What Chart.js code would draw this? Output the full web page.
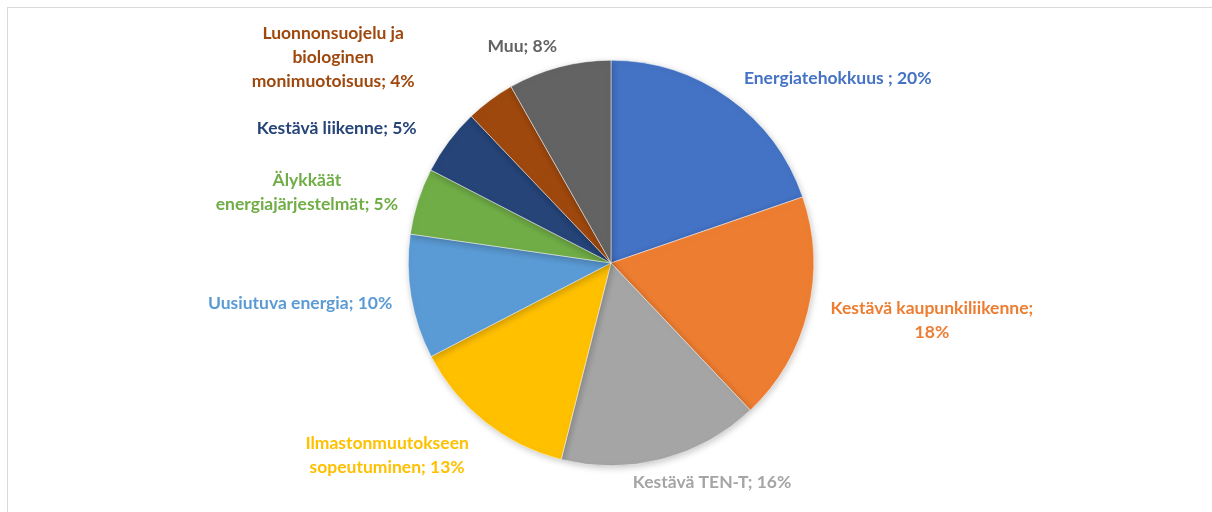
<!DOCTYPE html>
<html>
<head>
<meta charset="utf-8">
<script src="https://cdn.jsdelivr.net/npm/chart.js@4"></script>
<style>
    html, body { margin: 0; padding: 0; background: #fff; overflow: hidden; }
    #wrap { position: relative; width: 1212px; height: 512px; }
    #frame { position: absolute; left: 7px; top: 7px; width: 1220px; height: 520px; border: 1px solid #d9d9d9; box-sizing: border-box; }
    canvas { position: absolute; left: 0; top: 0; }
</style>
</head>
<body>
<div id="wrap">
    <div id="frame"></div>
    <canvas id="pieChart" width="1212" height="512"></canvas>
</div>
<script>
// Data
const categories = [
    'Energiatehokkuus ',
    'Kestävä kaupunkiliikenne',
    'Kestävä TEN-T',
    'Ilmastonmuutokseen sopeutuminen',
    'Uusiutuva energia',
    'Älykkäät energiajärjestelmät',
    'Kestävä liikenne',
    'Luonnonsuojelu ja biologinen monimuotoisuus',
    'Muu'
];
const shares = [19.7, 18.2, 16.0, 13.4, 9.9, 5.3, 5.3, 3.9, 8.2];
const colors = ['#4472C4', '#ED7D31', '#A5A5A5', '#FFC000', '#5B9BD5', '#70AD47', '#264478', '#9E480E', '#636363'];

// how each label is wrapped, and nudged from the slice's outer mid point
const labelLines = [
    ['Energiatehokkuus ; {p}'],
    ['Kestävä kaupunkiliikenne;', '{p}'],
    ['Kestävä TEN-T; {p}'],
    ['Ilmastonmuutokseen', 'sopeutuminen; {p}'],
    ['Uusiutuva energia; {p}'],
    ['Älykkäät', 'energiajärjestelmät; {p}'],
    ['Kestävä liikenne; {p}'],
    ['Luonnonsuojelu ja', 'biologinen', 'monimuotoisuus; {p}'],
    ['Muu; {p}']
];
const labelNudge = [[109, -20], [124, 9], [50, 23], [-98, 33], [-111, 6], [-111, -9], [-112, -13], [-157, -43], [-37, -21]];

const shadowPlugin = {
    id: 'pieShadow',
    beforeDatasetsDraw(chart) {
        const ctx = chart.ctx;
        ctx.save();
        ctx.shadowColor = 'rgba(0,0,0,0.22)';
        ctx.shadowBlur = 7;
        ctx.shadowOffsetX = 1;
        ctx.shadowOffsetY = 2;
    },
    afterDatasetsDraw(chart) {
        chart.ctx.restore();
    }
};

const labelPlugin = {
    id: 'outsideLabels',
    afterDraw(chart) {
        const ctx = chart.ctx;
        const meta = chart.getDatasetMeta(0);
        const total = shares.reduce((a, b) => a + b, 0);
        ctx.save();
        ctx.font = 'bold 17.5px Lato';
        ctx.textAlign = 'center';
        ctx.textBaseline = 'middle';
        const lineH = 24;
        meta.data.forEach((arc, i) => {
            const p = arc.getProps(['x', 'y', 'startAngle', 'endAngle', 'outerRadius'], true);
            const mid = (p.startAngle + p.endAngle) / 2;
            const ax = p.x + Math.cos(mid) * p.outerRadius + labelNudge[i][0];
            const ay = p.y + Math.sin(mid) * p.outerRadius + labelNudge[i][1];
            const pct = Math.round(shares[i] / total * 100) + '%';
            const lines = labelLines[i].map(s => s.replace('{p}', pct));
            ctx.fillStyle = colors[i];
            lines.forEach((line, j) => {
                ctx.fillText(line, ax, ay + (j - (lines.length - 1) / 2) * lineH);
            });
        });
        ctx.restore();
    }
};

new Chart(document.getElementById('pieChart'), {
    type: 'pie',
    data: {
        labels: categories,
        datasets: [{
            data: shares,
            backgroundColor: colors,
            borderColor: '#ffffff',
            borderWidth: 0.5
        }]
    },
    options: {
        responsive: false,
        animation: false,
        layout: { padding: { left: 10, right: 0, top: 60, bottom: 46 } },
        plugins: {
            legend: { display: false },
            tooltip: { enabled: false }
        }
    },
    plugins: [shadowPlugin, labelPlugin]
});
</script>
</body>
</html>
